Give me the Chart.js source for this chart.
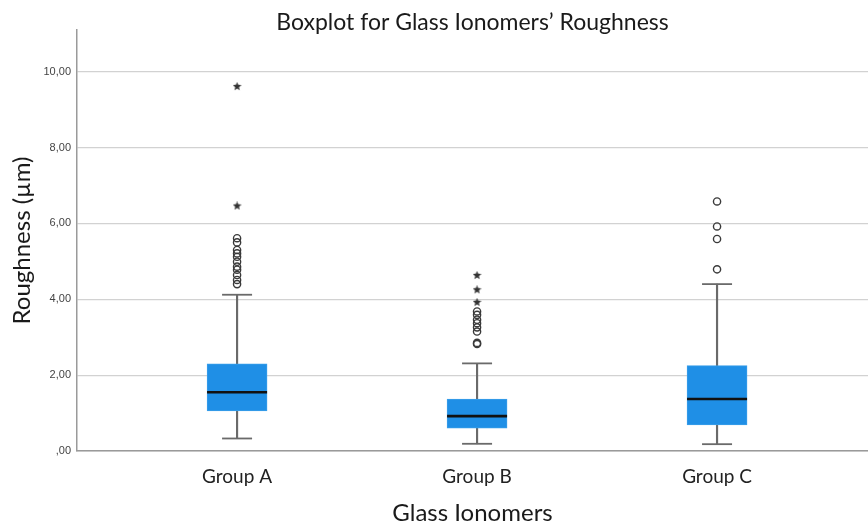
<!DOCTYPE html>
<html>
<head>
<meta charset="utf-8">
<script src="https://cdn.jsdelivr.net/npm/chart.js@4/dist/chart.umd.min.js"></script>
<style>
  html, body { margin: 0; padding: 0; background: #fff; }
  #wrap { width: 868px; height: 524px; }
</style>
</head>
<body>
<div id="wrap"><canvas id="c" width="868" height="524"></canvas></div>
<script>
// Box plot summary per glass ionomer group (roughness in µm)
const categories = ['Group A', 'Group B', 'Group C'];
const whiskerLow  = [0.33, 0.19, 0.18];
const quartile1   = [1.06, 0.60, 0.69];
const medians     = [1.55, 0.92, 1.37];
const quartile3   = [2.30, 1.37, 2.25];
const whiskerHigh = [4.12, 2.31, 4.40];

// Outliers (circles) and extreme values (stars)
const outliersA = [5.61, 5.50, 5.30, 5.21, 5.12, 4.99, 4.86, 4.78, 4.64, 4.51, 4.40];
const extremesA = [9.61, 6.46];
const outliersB = [3.68, 3.59, 3.46, 3.37, 3.26, 3.15, 2.85, 2.82];
const extremesB = [4.63, 4.25, 3.92];
const outliersC = [6.58, 5.92, 5.59, 4.79];
const extremesC = [];

const yTicks = [0, 2, 4, 6, 8, 10];

const outlierSets = [outliersA, outliersB, outliersC];
const extremeSets = [extremesA, extremesB, extremesC];

// filled five-point star used as point style for extreme values
function makeStar(size, color) {
  const cv = document.createElement('canvas');
  cv.width = size; cv.height = size;
  const g = cv.getContext('2d');
  const cx = size / 2, cy = size / 2, ro = size / 2, ri = ro * 0.45;
  g.beginPath();
  for (let i = 0; i < 10; i++) {
    const r = i % 2 === 0 ? ro : ri;
    const a = -Math.PI / 2 + i * Math.PI / 5;
    const px = cx + r * Math.cos(a), py = cy + r * Math.sin(a);
    if (i === 0) g.moveTo(px, py); else g.lineTo(px, py);
  }
  g.closePath();
  g.fillStyle = color;
  g.fill();
  return cv;
}
const starImg = makeStar(9, '#333');

const pos = categories.map((_, i) => i + 1);

const boxData   = pos.map((x, i) => ({ x, y: [quartile1[i], quartile3[i]] }));
const lowStem   = pos.map((x, i) => ({ x, y: [whiskerLow[i], quartile1[i]] }));
const highStem  = pos.map((x, i) => ({ x, y: [quartile3[i], whiskerHigh[i]] }));
const capData   = pos.flatMap((x, i) => [{ x, y: whiskerLow[i] }, { x, y: whiskerHigh[i] }]);
const medData   = pos.map((x, i) => ({ x, y: medians[i] }));
const outData   = pos.flatMap((x, i) => outlierSets[i].map(y => ({ x, y })));
const extData   = pos.flatMap((x, i) => extremeSets[i].map(y => ({ x, y })));

const stemColor = '#6a6a6a';
const axisColor = '#9a9a9a';
const titleFont = 'Lato, "Open Sans", sans-serif';

new Chart(document.getElementById('c'), {
  type: 'bar',
  data: {
    datasets: [
      { type: 'bar', data: lowStem, backgroundColor: stemColor, barThickness: 1.5, grouped: false, order: 6 },
      { type: 'bar', data: highStem, backgroundColor: stemColor, barThickness: 1.5, grouped: false, order: 6 },
      { type: 'bar', data: boxData, backgroundColor: '#1f8fe6', borderColor: '#3a9ee9', borderWidth: 1,
        borderSkipped: false, barThickness: 60, grouped: false, order: 5 },
      { type: 'scatter', data: capData, pointStyle: 'line', radius: 15, borderColor: stemColor,
        borderWidth: 1.8, order: 4 },
      { type: 'scatter', data: medData, pointStyle: 'line', radius: 30, borderColor: '#111',
        borderWidth: 2.6, order: 1 },
      { type: 'scatter', data: outData, pointStyle: 'circle', radius: 3.6, borderColor: '#3a3a3a',
        backgroundColor: 'rgba(255,255,255,0)', borderWidth: 1.4, order: 2 },
      { type: 'scatter', data: extData, pointStyle: starImg, radius: 5, order: 2 }
    ]
  },
  options: {
    responsive: false,
    animation: false,
    events: [],
    layout: { autoPadding: false, padding: 0 },
    plugins: {
      legend: { display: false },
      tooltip: { enabled: false },
      title: {
        display: true,
        fullSize: false,
        text: 'Boxplot for Glass Ionomers\u2019 Roughness',
        color: '#1a1a1a',
        font: { family: titleFont, size: 23, weight: 'normal', lineHeight: 1.0 },
        padding: { top: 11, bottom: -4 }
      }
    },
    scales: {
      x: {
        type: 'linear',
        offset: false,
        min: 0.333,
        max: 3.629,
        afterBuildTicks: (scale) => { scale.ticks = pos.map(v => ({ value: v })); },
        afterFit: (scale) => { scale.height = 73; scale.paddingLeft = 0; scale.paddingRight = 0; },
        ticks: {
          callback: (v) => categories[v - 1] || '',
          color: '#222',
          font: { family: titleFont, size: 19 },
          padding: 14,
          maxRotation: 0
        },
        grid: { display: false, drawTicks: false },
        border: { display: true, color: axisColor, width: 1.5 },
        title: {
          display: true,
          text: 'Glass Ionomers',
          color: '#1a1a1a',
          font: { family: titleFont, size: 24, lineHeight: 0.9 },
          padding: { top: 6, bottom: 0 }
        }
      },
      y: {
        min: 0,
        max: 11.1,
        afterBuildTicks: (scale) => { scale.ticks = yTicks.map(v => ({ value: v })); },
        afterFit: (scale) => { scale.width = 77; },
        ticks: {
          callback: (v) => { const s = v.toFixed(2).replace('.', ','); return v < 1 ? s.replace(/^0/, '') : s; },
          color: '#444',
          font: { family: '"Liberation Sans", Arial, sans-serif', size: 11 },
          padding: 6
        },
        grid: { color: '#d2d2d2', lineWidth: 1.2, drawTicks: false },
        border: { display: true, color: axisColor, width: 1.5 },
        title: {
          display: true,
          text: 'Roughness (\u00b5m)',
          color: '#1a1a1a',
          font: { family: titleFont, size: 24 },
          padding: { top: 8, bottom: 4 }
        }
      }
    }
  }
});
</script>
</body>
</html>
